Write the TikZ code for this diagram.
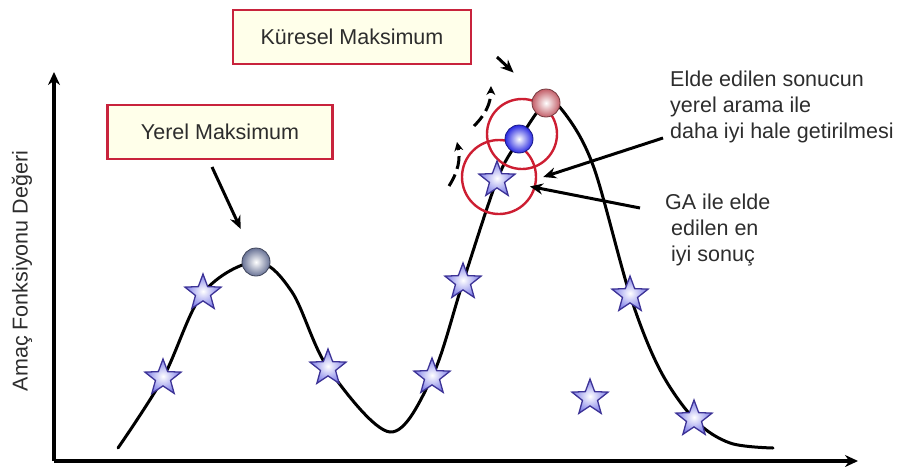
\documentclass[tikz,border=0pt]{standalone}
\usepackage{fontspec}
\setmainfont{Liberation Sans}
\usetikzlibrary{shapes.geometric,arrows.meta,positioning}

\definecolor{boxred}{RGB}{200,35,60}
\definecolor{boxfill}{RGB}{255,255,234}
\definecolor{starline}{RGB}{60,50,150}
\definecolor{starfill}{RGB}{125,125,232}
\definecolor{ringred}{RGB}{205,30,50}
\definecolor{txtgray}{RGB}{45,45,45}
\definecolor{ballgray}{RGB}{105,115,150}
\definecolor{ballblue}{RGB}{40,40,225}
\definecolor{ballred}{RGB}{195,95,105}

\tikzset{
  maxbox/.style={draw=boxred, fill=boxfill, line width=2.6pt, minimum width=225pt,
    minimum height=54pt, text=txtgray, font=\fontsize{21.5}{24}\selectfont},
  gastar/.style={star, star points=5, star point ratio=2.4, minimum size=38pt,
    inner sep=0pt, draw=starline, line width=1.3pt, inner color=white, outer color=starfill},
  ballnode/.style={circle, minimum size=28pt, inner sep=0pt, draw=#1!60!black,
    line width=0.8pt, inner color=white, outer color=#1},
  ring/.style={circle, draw=ringred, line width=2.4pt, inner sep=0pt},
  pointer/.style={line width=3pt, -{Stealth[length=13pt,width=11pt]}},
  note/.style={align=left, inner sep=0pt, font=\fontsize{21.5}{26}\selectfont, text=txtgray}
}

\begin{document}
\begin{tikzpicture}[x=1pt, y=-1pt]
  \useasboundingbox (0,0) rectangle (899,466);

  % Axes
  \coordinate (origin) at (54,461);
  \coordinate (ytop) at (54,72);
  \coordinate (xend) at (858,461);
  \draw[line width=3.5pt, -{Stealth[length=13pt,width=12pt]}] (origin) -- (ytop);
  \draw[line width=3.5pt, -{Stealth[length=13pt,width=12pt]}] (origin) -- (xend);
  \node[rotate=90, font=\fontsize{21.5}{24}\selectfont, text=txtgray] (ylabel) at (22,271) {Amaç Fonksiyonu Değeri};

  % Objective function
  \draw[line width=3pt, line cap=round] plot[smooth, tension=0.55] coordinates {
    (118,448) (163,378) (203,293) (256,262) (292,292) (328,368) (390,432)
    (432,377) (463,282) (497,180) (519,140) (546,103) (566,115) (594,168)
    (630,295) (660,370) (695,420) (730,443) (773,448)};

  % Search rings
  \node[ring, minimum size=70pt] (ring1) at (522,134) {};
  \node[ring, minimum size=74pt] (ring2) at (499,177) {};

  % Population
  \node[gastar] (s1) at (163,378) {};
  \node[gastar] (s2) at (203,293) {};
  \node[gastar] (s3) at (328,368) {};
  \node[gastar] (s4) at (432,377) {};
  \node[gastar] (s5) at (463,282) {};
  \node[gastar] (gstar) at (497,180) {};
  \node[gastar] (s7) at (630,295) {};
  \node[gastar] (s8) at (590,398) {};
  \node[gastar] (s9) at (694,419) {};

  % Maxima
  \node[ballnode=ballgray] (ygray) at (256,262) {};
  \node[ballnode=ballblue] (bball) at (519,139) {};
  \node[ballnode=ballred] (kball) at (546,103) {};

  % Labels
  \node[maxbox] (ybox) at (220,132) {Yerel Maksimum};
  \node[maxbox, minimum width=238pt] (kbox) at (352,37) {Küresel Maksimum};
  \node[note, anchor=north west] (elde) at (670,71) {Elde edilen sonucun\\yerel arama ile\\daha iyi hale getirilmesi};
  \node[note, anchor=north west] (ga) at (665,194) {GA ile elde\\\hspace*{6pt}edilen en\\\hspace*{6pt}iyi sonuç};

  % Pointers
  \coordinate (ytail) at (212,167);
  \coordinate (ktail) at (497,57);
  \coordinate (etail) at (663,138);
  \coordinate (gtail) at (640,208);
  \draw[pointer, shorten >=22pt] (ytail) -- (ygray);
  \draw[pointer, shorten >=30pt] (ktail) -- (kball);
  \draw[pointer] (etail) -- ([xshift=6pt]ring2.east);
  \draw[pointer, shorten >=24pt] (gtail) -- (gstar);

  % Climbing steps
  \coordinate (c1) at (449,186);
  \coordinate (c2) at (457,142);
  \coordinate (c3) at (474,126);
  \coordinate (c4) at (491,86);
  \draw[line width=3pt, dash pattern=on 13pt off 6pt, -{Stealth[length=9pt,width=9pt]}] (c1) to[bend right=22] (c2);
  \draw[line width=3pt, dash pattern=on 13pt off 6pt, -{Stealth[length=9pt,width=9pt]}] (c3) to[bend right=22] (c4);
\end{tikzpicture}
\end{document}
